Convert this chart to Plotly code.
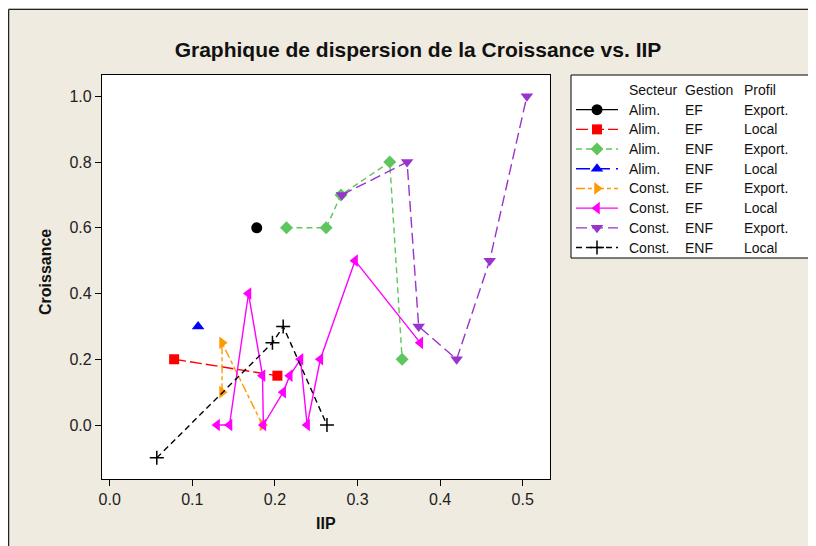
import plotly.graph_objects as go

# ---------------- data ----------------
secteur = ["Alim.", "Alim.", "Alim.", "Alim.", "Const.", "Const.", "Const.", "Const."]
gestion = ["EF", "EF", "ENF", "ENF", "EF", "EF", "ENF", "ENF"]
profil = ["Export.", "Local", "Export.", "Local", "Export.", "Local", "Export.", "Local"]

alim_ef_exp_x = [0.178]
alim_ef_exp_y = [0.6]
alim_ef_loc_x = [0.078, 0.203]
alim_ef_loc_y = [0.2, 0.15]
alim_enf_exp_x = [0.214, 0.262, 0.280, 0.339, 0.354]
alim_enf_exp_y = [0.6, 0.6, 0.7, 0.8, 0.2]
alim_enf_loc_x = [0.107]
alim_enf_loc_y = [0.3]
const_ef_exp_x = [0.136, 0.136, 0.185]
const_ef_exp_y = [0.1, 0.25, 0.0]
const_ef_loc_x = [0.130, 0.145, 0.168, 0.185, 0.186, 0.210, 0.218, 0.231, 0.239, 0.255, 0.297, 0.376]
const_ef_loc_y = [0.0, 0.0, 0.4, 0.15, 0.0, 0.1, 0.15, 0.2, 0.0, 0.2, 0.5, 0.25]
const_enf_exp_x = [0.281, 0.360, 0.374, 0.420, 0.460, 0.505]
const_enf_exp_y = [0.7, 0.8, 0.3, 0.2, 0.5, 1.0]
const_enf_loc_x = [0.057, 0.197, 0.210, 0.263]
const_enf_loc_y = [-0.1, 0.25, 0.3, 0.0]

xs = [alim_ef_exp_x, alim_ef_loc_x, alim_enf_exp_x, alim_enf_loc_x,
      const_ef_exp_x, const_ef_loc_x, const_enf_exp_x, const_enf_loc_x]
ys = [alim_ef_exp_y, alim_ef_loc_y, alim_enf_exp_y, alim_enf_loc_y,
      const_ef_exp_y, const_ef_loc_y, const_enf_exp_y, const_enf_loc_y]

x_ticks = [0.0, 0.1, 0.2, 0.3, 0.4, 0.5]
y_ticks = [0.0, 0.2, 0.4, 0.6, 0.8, 1.0]

# ---------------- styles ----------------
colors = ["#000000", "#FF0000", "#5FC65F", "#0000FF", "#FF9900", "#FF00FF", "#9933CC", "#000000"]
symbols = ["circle", "square", "diamond", "triangle-up", "triangle-right",
           "triangle-left", "triangle-down", "cross-thin"]
sizes = [11, 10, 10, 11, 11, 11, 11, 10]
dashes = ["solid", "12px,4px", "6px,4px", "14px,6px", "9px,3px,4px,3px",
          "solid", "11px,5px", "6px,4px"]

FONT = "Arial, Liberation Sans, sans-serif"
BG = "#EFEBE0"

fig = go.Figure()

for i in range(8):
    fig.add_trace(go.Scatter(
        x=xs[i], y=ys[i], mode="lines+markers",
        line=dict(color=colors[i], width=1.4, dash=dashes[i]),
        marker=dict(symbol=symbols[i], size=sizes[i], color=colors[i],
                    line=dict(color=colors[i], width=1.5 if symbols[i] == "cross-thin" else 0)),
        xaxis="x", yaxis="y", showlegend=False, hoverinfo="x+y"))

# ---------------- custom legend (row index as y) ----------------
rows = list(range(1, 9))
for i in range(8):
    fig.add_trace(go.Scatter(
        x=[5, 47], y=[rows[i], rows[i]], mode="lines",
        line=dict(color=colors[i], width=1.4, dash=dashes[i]),
        xaxis="x2", yaxis="y2", showlegend=False, hoverinfo="skip"))
    fig.add_trace(go.Scatter(
        x=[26], y=[rows[i]], mode="markers",
        marker=dict(symbol=symbols[i], size=sizes[i], color=colors[i],
                    line=dict(color=colors[i], width=1.5 if symbols[i] == "cross-thin" else 0)),
        xaxis="x2", yaxis="y2", showlegend=False, hoverinfo="skip"))

annotations = []
col_x = [55.7, 112.3, 171.3]
headers = ["Secteur", "Gestion", "Profil"]
LEG_FONT = dict(family=FONT, size=14, color="#111")
for c in range(3):
    annotations.append(dict(x=col_x[c], y=0, xref="x2", yref="y2", text=headers[c],
                            showarrow=False, xanchor="left", yanchor="middle", font=LEG_FONT))
for i in range(8):
    for c, txt in enumerate([secteur[i], gestion[i], profil[i]]):
        annotations.append(dict(x=col_x[c], y=rows[i], xref="x2", yref="y2", text=txt,
                                showarrow=False, xanchor="left", yanchor="middle", font=LEG_FONT))

# page body has an 8px margin: figure origin sits at page (8, 8)
OFF = 8
FIG_W, FIG_H = 816 - OFF, 546 - OFF
L, T = 102 - OFF, 75 - OFF          # plot-area left/top inside the figure
W_IN, H_IN = 707, 404               # inner (margin-free) area

def px_x(page_x):
    return (page_x - OFF - L) / W_IN

def px_y(page_y):
    return ((T + H_IN) - (page_y - OFF)) / H_IN

# axis titles
annotations.append(dict(x=px_x(326), y=px_y(523), xref="paper", yref="paper",
                        text="<b>IIP</b>", showarrow=False, xanchor="center", yanchor="middle",
                        font=dict(family=FONT, size=16, color="#111")))
annotations.append(dict(x=px_x(45), y=px_y(272), xref="paper", yref="paper",
                        text="<b>Croissance</b>", textangle=-90, showarrow=False,
                        xanchor="center", yanchor="middle",
                        font=dict(family=FONT, size=16, color="#111")))

shapes = [
    # legend box
    dict(type="rect", xref="x2 domain", yref="y2 domain", x0=0, x1=1, y0=0, y1=1,
         line=dict(color="#000", width=1), fillcolor="white", layer="below"),
    # outer frame (left and top edges)
    dict(type="line", xref="paper", yref="paper", x0=px_x(8.6), x1=px_x(8.6),
         y0=px_y(560), y1=px_y(9.4), line=dict(color="#222", width=1.3)),
    dict(type="line", xref="paper", yref="paper", x0=px_x(8.6), x1=px_x(830),
         y0=px_y(9.4), y1=px_y(9.4), line=dict(color="#222", width=1.3)),
]

fig.update_layout(
    width=FIG_W, height=FIG_H,
    margin=dict(l=L, r=FIG_W - (L + W_IN), t=T, b=FIG_H - (T + H_IN)),
    paper_bgcolor=BG, plot_bgcolor="white",
    title=dict(text="<b>Graphique de dispersion de la Croissance vs. IIP</b>",
               x=(418 - OFF) / FIG_W, xanchor="center",
               y=1 - (50 - OFF) / FIG_H, yanchor="middle",
               font=dict(family=FONT, size=21, color="#111")),
    xaxis=dict(domain=[0, 448 / W_IN], range=[-0.00932, 0.5330], tickvals=x_ticks,
               ticktext=[f"{v:.1f}" for v in x_ticks],
               showgrid=False, zeroline=False, showline=True, linecolor="#000",
               linewidth=1.2, mirror=True, ticks="outside", ticklen=6, tickwidth=1.2,
               tickcolor="#000", tickfont=dict(family=FONT, size=16, color="#222")),
    yaxis=dict(domain=[0, 1], range=[-0.1643, 1.0648], tickvals=y_ticks,
               ticktext=[f"{v:.1f}" for v in y_ticks],
               showgrid=False, zeroline=False, showline=True, linecolor="#000",
               linewidth=1.2, mirror=True, ticks="outside", ticklen=6, tickwidth=1.2,
               tickcolor="#000", tickfont=dict(family=FONT, size=16, color="#222")),
    xaxis2=dict(domain=[(571 - 102) / W_IN, 1], range=[0, 238], visible=False,
                anchor="y2", fixedrange=True),
    yaxis2=dict(domain=[(479 - 258) / H_IN, 1], range=[8.53, -0.76], visible=False,
                anchor="x2", fixedrange=True),
    annotations=annotations,
    shapes=shapes,
    showlegend=False,
)

fig.write_html("out.html")
